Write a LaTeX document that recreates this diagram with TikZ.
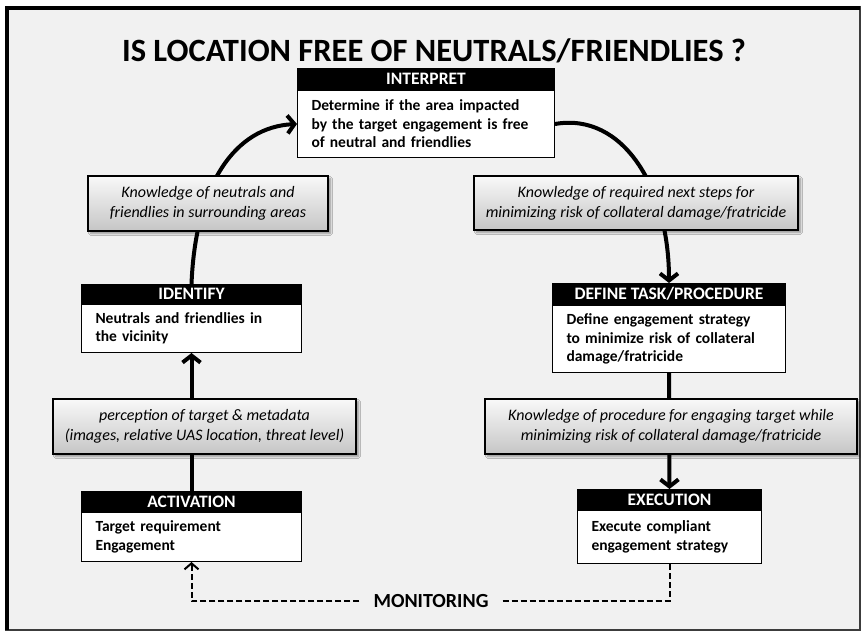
\documentclass[tikz,border=0pt]{standalone}
\usepackage{fontspec}
\setmainfont{Carlito}
\usetikzlibrary{arrows.meta,shadows.blur}
\pgfdeclarelayer{back}
\pgfsetlayers{back,main}
\definecolor{panel}{HTML}{F1F1F1}
\definecolor{rim}{HTML}{3C3C3C}
\begin{document}
\begin{tikzpicture}[x=1pt,y=-1pt,
  hdr/.style={draw=black, fill=black, text=white, line width=1pt,
    font=\bfseries\fontsize{17.5}{20}\selectfont,
    minimum height=21pt, inner sep=0pt, anchor=north west},
  body/.style={draw=black, fill=white, line width=1pt, align=left, anchor=north,
    font=\bfseries\fontsize{15.5}{18.5}\selectfont,
    inner xsep=14pt, inner ysep=0pt},
  gbox/.style={draw=black, line width=1.2pt, top color=gray!5, bottom color=gray!45,
    font=\itshape\fontsize{16}{20}\selectfont, align=center, inner sep=0pt,
    blur shadow={shadow xshift=2.5pt, shadow yshift=-2.5pt, shadow blur steps=6}},
  conn/.style={line width=4pt, -{Straight Barb[length=7pt,width=18pt]}},
  monline/.style={line width=2pt, dash pattern=on 6pt off 3pt}]

\useasboundingbox (0,0) rectangle (861,631);

% title
\node[font=\bfseries\fontsize{32.5}{38}\selectfont] (title) at (434,51)
  {IS LOCATION FREE OF NEUTRALS/FRIENDLIES ?};

% process boxes
\node[hdr, minimum width=257pt] (interph) at (297,68) {INTERPRET};
\node[body, text width=229pt, minimum height=67pt] (interp) at (interph.south)
  {Determine if the area impacted\\by the target engagement is free\\of neutral and friendlies};

\node[hdr, minimum width=220pt, minimum height=19pt] (identh) at (81,284) {IDENTIFY};
\node[body, text width=192pt, minimum height=48pt] (ident) at (identh.south)
  {Neutrals and friendlies in\\the vicinity};

\node[hdr, minimum width=220pt, minimum height=20pt] (acth) at (81,491) {ACTIVATION};
\node[body, text width=192pt, minimum height=49pt] (act) at (acth.south)
  {Target requirement\\Engagement};

\node[hdr, minimum width=233pt] (defh) at (552,283) {DEFINE TASK/PROCEDURE};
\node[body, text width=205pt, minimum height=67pt] (def) at (defh.south)
  {Define engagement strategy\\to minimize risk of collateral\\damage/fratricide};

\node[hdr, minimum width=184pt, minimum height=20pt] (exech) at (577,489) {EXECUTION};
\node[body, text width=156pt, minimum height=53pt] (exec) at (exech.south)
  {Execute compliant\\engagement strategy};

% information flows
\node[gbox, minimum width=240pt, minimum height=55pt] (g1) at (208,203.5)
  {Knowledge of neutrals and\\friendlies in surrounding areas};
\node[gbox, minimum width=324pt, minimum height=54pt] (g2) at (636,203)
  {Knowledge of required next steps for\\minimizing risk of collateral damage/fratricide};
\node[gbox, minimum width=303pt, minimum height=55pt] (g3) at (204.5,426.5)
  {perception of target \& metadata\\(images, relative UAS location, threat level)};
\node[gbox, minimum width=372pt, minimum height=55pt] (g4) at (671,426.5)
  {Knowledge of procedure for engaging target while\\minimizing risk of collateral damage/fratricide};

\node[font=\bfseries\fontsize{20}{24}\selectfont, inner xsep=14pt, inner ysep=2pt]
  (monitor) at (431,601) {MONITORING};

\begin{pgfonlayer}{back}
  % frame
  \fill[white] (0,0) rectangle (861,631);
  \fill[panel] (5,6) rectangle (860,630);
  \draw[rim, line width=1.5pt] (860,6) -- (860,630) -- (5,630);
  \draw[black, line width=4pt] (7,630) -- (7,8) -- (860,8);
  % loop
  \draw[conn] (acth.north) -- (ident.south);
  \draw[conn] (identh.north) .. controls +(4,-100) and +(-62,3) .. (interp.west);
  \draw[conn] (interp.east) .. controls +(68,-12) and +(0,-95) .. (defh.north);
  \draw[conn] (def.south) -- (exech.north);
  % monitoring
  \draw[monline, -{Straight Barb[length=6pt,width=14pt]}] (monitor.west) -| (act.south);
  \draw[monline] (monitor.east) -| (exec.south);
\end{pgfonlayer}
\end{tikzpicture}
\end{document}
